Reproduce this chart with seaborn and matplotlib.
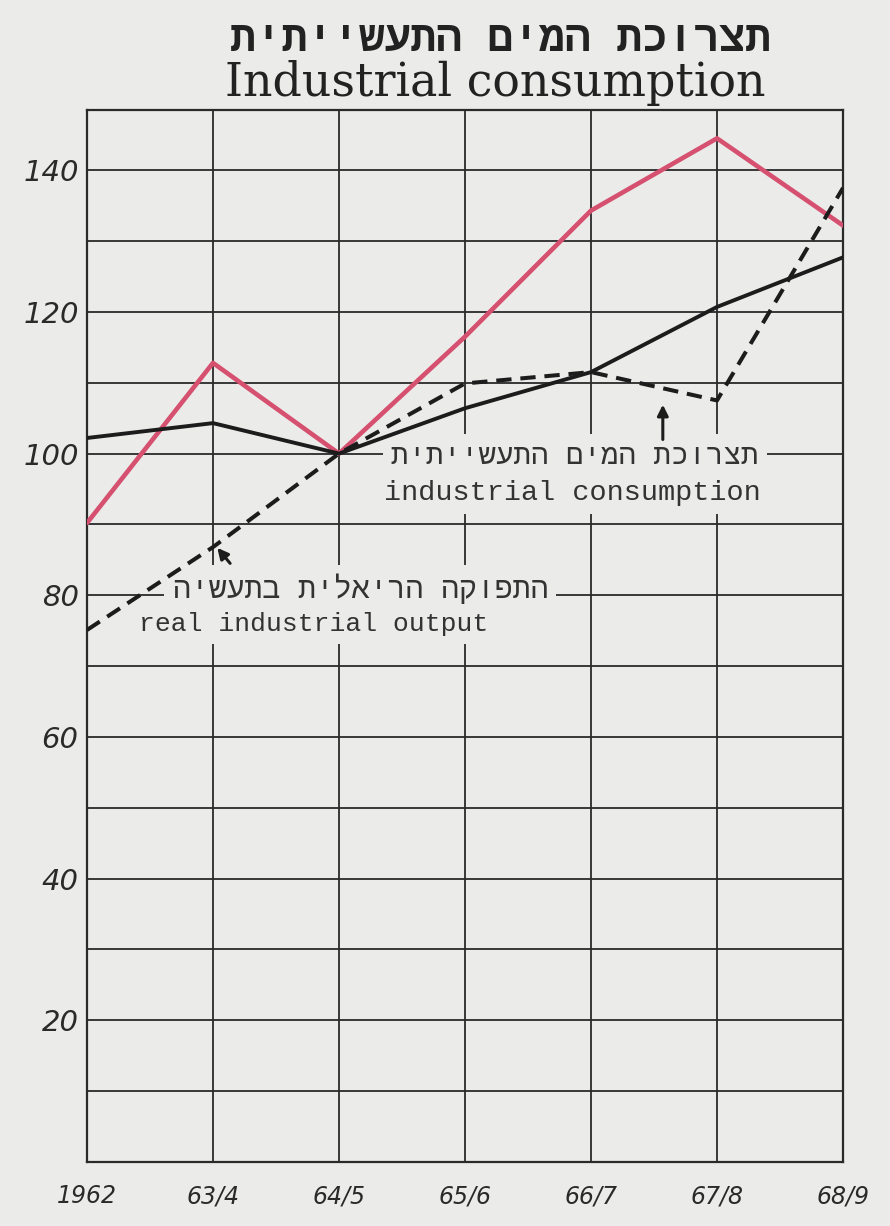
import matplotlib
matplotlib.use("Agg")
import matplotlib.pyplot as plt
from matplotlib.ticker import MultipleLocator
import pandas as pd
import seaborn as sns

# data (index, 64/5 = 100)
periods = ["1962", "63/4", "64/5", "65/6", "66/7", "67/8", "68/9"]
red_series = [90.2, 112.8, 100.0, 116.5, 134.3, 144.5, 132.2]
solid_series = [102.2, 104.3, 100.0, 106.4, 111.5, 120.7, 127.7]
dashed_series = [75.1, 86.8, 100.0, 109.9, 111.5, 107.5, 137.5]
y_ticks = [20, 40, 60, 80, 100, 120, 140]

title_he = "תצרוכת המים התעשייתית"
title_en = "Industrial consumption"
label_cons_he = "תצרוכת המים התעשייתית"
label_cons_en = "industrial consumption"
label_out_he = "התפוקה הריאלית בתעשיה"
label_out_en = "real industrial output"

BG = "#ebebea"
INK = "#1c1c1c"
RED = "#d6506f"


def rtl(s):
    # matplotlib has no bidi support, so lay hebrew out in visual order
    return s[::-1]


df = pd.DataFrame({
    "period": periods,
    "red": red_series,
    "solid": solid_series,
    "dashed": dashed_series,
})

sns.set_style("white")
plt.rcParams["font.family"] = ["DejaVu Sans"]

fig = plt.figure(figsize=(8.9, 12.26), dpi=100, facecolor=BG)
ax = fig.add_axes([87 / 890, 1 - 1162 / 1226, 756 / 890, 1052 / 1226])
ax.set_facecolor(BG)

sns.lineplot(data=df, x="period", y="red", ax=ax, color=RED, lw=3.3,
             sort=False, zorder=5)
sns.lineplot(data=df, x="period", y="solid", ax=ax, color=INK, lw=2.8,
             sort=False, zorder=5)
sns.lineplot(data=df, x="period", y="dashed", ax=ax, color=INK, lw=2.9,
             sort=False, zorder=6, dashes=False, linestyle=(0, (3.8, 2.2)))

ax.set_xlim(0, len(periods) - 1)
ax.set_ylim(0, 148.5)
ax.yaxis.set_major_locator(MultipleLocator(20))
ax.yaxis.set_minor_locator(MultipleLocator(10))
ax.set_yticks(y_ticks)
ax.set_xlabel("")
ax.set_ylabel("")

ax.set_axisbelow(True)
ax.grid(True, which="both", color="#2a2a2a", lw=1.3)
for sp in ax.spines.values():
    sp.set_visible(True)
    sp.set_color("#2a2a2a")
    sp.set_linewidth(1.6)

ax.tick_params(axis="both", which="both", length=0)
ax.tick_params(axis="y", pad=6)
ax.tick_params(axis="x", pad=16)
for t in ax.get_yticklabels():
    t.set_fontsize(21)
    t.set_fontstyle("italic")
    t.set_color("#2a2a2a")
for t in ax.get_xticklabels():
    t.set_fontsize(17)
    t.set_fontstyle("italic")
    t.set_color("#2a2a2a")

# labels pasted over the grid
box = dict(facecolor=BG, edgecolor="none", boxstyle="square,pad=0.28")
lab_font = ["Liberation Mono", "DejaVu Sans Mono", "DejaVu Sans"]
ax.text(3.87, 99.6, rtl(label_cons_he), ha="center", va="center",
        fontsize=21, family=lab_font, color="#333333", bbox=box, zorder=3)
ax.text(3.85, 94.4, label_cons_en, ha="center", va="center",
        fontsize=20.5, family=lab_font, color="#333333", bbox=box, zorder=3)
ax.text(2.17, 80.9, rtl(label_out_he), ha="center", va="center",
        fontsize=21.5, family=lab_font, color="#333333", bbox=box, zorder=3)
ax.text(1.80, 75.9, label_out_en, ha="center", va="center",
        fontsize=19, family=lab_font, color="#333333", bbox=box, zorder=3)

arrow = dict(arrowstyle="-|>", color=INK, lw=2.2, mutation_scale=16)
ax.annotate("", xy=(4.57, 107.3), xytext=(4.57, 101.6), arrowprops=arrow,
            zorder=7)
ax.annotate("", xy=(1.02, 87.0), xytext=(1.15, 84.2), arrowprops=arrow,
            zorder=7)

fig.text(0.562, 0.967, rtl(title_he), ha="center", va="center",
         fontsize=31, fontweight="bold",
         family=["Liberation Mono", "DejaVu Sans"], color="#222222")
fig.text(0.557, 0.932, title_en, ha="center", va="center",
         fontsize=33, family=["DejaVu Serif"], color="#222222")

fig.savefig("out.png", dpi=100, facecolor=BG)
